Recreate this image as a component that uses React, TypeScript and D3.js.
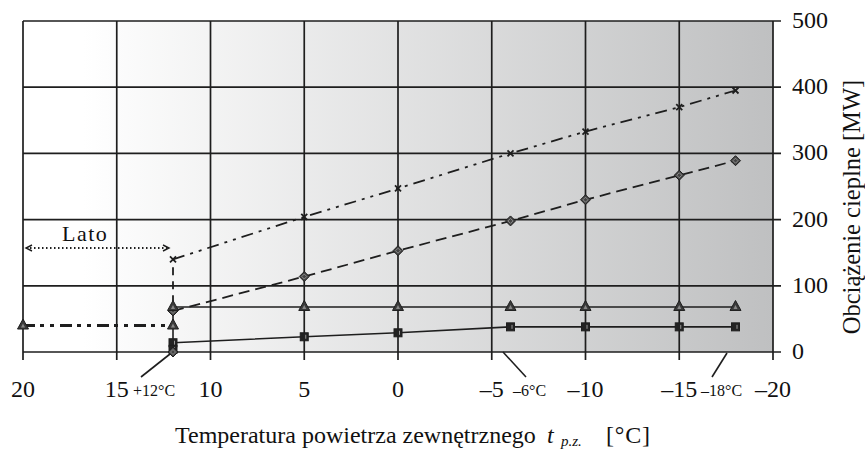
import React from "react";
import * as d3 from "d3";

const tempTicks = [20, 15, 10, 5, 0, -5, -10, -15, -20];
const loadTicks = [0, 100, 200, 300, 400, 500];
const winterTemps = [12, 5, 0, -6, -10, -15, -18];
const totalLoad = [140, 204, 247, 300, 333, 370, 395];
const heatingLoad = [62, 114, 153, 198, 230, 267, 289];
const baseLoad = [68, 68, 68, 68, 68, 68, 68];
const lowLoad = [14, 23, 29, 38, 38, 38, 38];
const summerTemps = [20, 12];
const summerLoad = [40, 40];

const W = 865;
const H = 450;
const FONT = "Liberation Serif, DejaVu Serif, serif";
const INK = "#1e1e1e";

const x = d3.scaleLinear().domain([20, -20]).range([23, 773]);
const y = d3.scaleLinear().domain([0, 500]).range([352, 21]);

const fmt = (v: number) => (v < 0 ? "\u2013" + Math.abs(v) : String(v));

const lineGen = d3
  .line<[number, number]>()
  .x((d) => x(d[0]))
  .y((d) => y(d[1]));

const pts = (ts: number[], vs: number[]) => ts.map((t, i) => [t, vs[i]] as [number, number]);

const ts = { fontFamily: FONT, fill: "#111" } as React.CSSProperties;

function Triangle({ cx, cy }: { cx: number; cy: number }) {
  const s = 5.5;
  return (
    <g>
      <path d={`M${cx},${cy - s - 1}L${cx + s},${cy + s - 2}L${cx - s},${cy + s - 2}Z`} fill="#3a3a3a" stroke={INK} strokeWidth={1} />
      <path d={`M${cx},${cy - 2}L${cx + 2},${cy + 2}L${cx - 2},${cy + 2}Z`} fill="#888" />
    </g>
  );
}
function Square({ cx, cy }: { cx: number; cy: number }) {
  const s = 4;
  return (
    <g>
      <rect x={cx - s} y={cy - s} width={2 * s} height={2 * s} fill="#222" stroke={INK} strokeWidth={1} />
      <line x1={cx + 1.5} x2={cx + 1.5} y1={cy - 2} y2={cy + 2} stroke="#999" strokeWidth={1} />
    </g>
  );
}
function Diamond({ cx, cy }: { cx: number; cy: number }) {
  const s = 5;
  return (
    <g>
      <path d={`M${cx},${cy - s}L${cx + s},${cy}L${cx},${cy + s}L${cx - s},${cy}Z`} fill="#444" stroke={INK} strokeWidth={1} />
      <path d={`M${cx},${cy - 2.5}L${cx + 2.5},${cy}L${cx},${cy + 2.5}L${cx - 2.5},${cy}Z`} fill="none" stroke="#999" strokeWidth={0.8} />
    </g>
  );
}
function Cross({ cx, cy }: { cx: number; cy: number }) {
  const s = 3;
  return (
    <g stroke={INK} strokeWidth={1.8}>
      <line x1={cx - s} y1={cy - s} x2={cx + s} y2={cy + s} />
      <line x1={cx - s} y1={cy + s} x2={cx + s} y2={cy - s} />
    </g>
  );
}

export default function App() {
  const x0 = x(20);
  const x1 = x(-20);
  const yTop = y(500);
  const yBot = y(0);
  const latoL = x(20) + 3;
  const latoR = x(12) - 4;
  const latoY = 248;
  return (
    <svg width={W} height={H} style={{ position: "absolute", left: 0, top: 0, background: "#fff" }}>
      <defs>
        <linearGradient id="bg" x1="0" x2="1" y1="0" y2="0">
          <stop offset="0" stopColor="#ffffff" />
          <stop offset="0.08" stopColor="#ffffff" />
          <stop offset="1" stopColor="#bfc0c1" />
        </linearGradient>
      </defs>
      <rect x={x0} y={yTop} width={x1 - x0} height={yBot - yTop} fill="url(#bg)" />
      {/* grid */}
      {tempTicks.map((t) => (
        <line key={"v" + t} x1={x(t)} x2={x(t)} y1={yTop} y2={yBot + 8} stroke={INK} strokeWidth={1.7} />
      ))}
      {loadTicks.map((v) => (
        <line key={"h" + v} x1={x0} x2={x1 + 8} y1={y(v)} y2={y(v)} stroke={INK} strokeWidth={1.7} />
      ))}
      {/* tick labels */}
      {tempTicks.map((t) => (
        <text key={"tx" + t} x={x(t)} y={397} fontSize={24} textAnchor="middle" style={ts}>
          {fmt(t)}
        </text>
      ))}
      {loadTicks.map((v) => (
        <text key={"ty" + v} x={792} y={y(v) + 7} fontSize={24} textAnchor="start" style={ts}>
          {v}
        </text>
      ))}
      <text transform={`translate(860,207) rotate(-90)`} fontSize={24.5} textAnchor="middle" style={ts}>
        Obciążenie cieplne [MW]
      </text>
      <text x={175} y={443} fontSize={24} textAnchor="start" style={ts}>
        Temperatura powietrza zewnętrznego
      </text>
      <text x={547} y={443} fontSize={24} fontStyle="italic" style={ts}>t</text>
      <text x={561} y={446} fontSize={15} fontStyle="italic" style={ts}>p.z.</text>
      <text x={606} y={443} fontSize={24} letterSpacing={0.8} style={ts}>[°C]</text>
      {/* annotations */}
      <line x1={170} y1={354} x2={141} y2={377} stroke={INK} strokeWidth={1.6} />
      <text x={133} y={396} fontSize={16} style={ts}>+12°C</text>
      <line x1={503} y1={352} x2={526} y2={377} stroke={INK} strokeWidth={1.6} />
      <text x={513} y={396} fontSize={16} style={ts}>{"\u20136°C"}</text>
      <line x1={727} y1={353} x2={712} y2={377} stroke={INK} strokeWidth={1.6} />
      <text x={701} y={396} fontSize={16} style={ts}>{"\u201318°C"}</text>
      {/* Lato */}
      <line x1={latoL} x2={latoR} y1={latoY} y2={latoY} stroke={INK} strokeWidth={2} strokeDasharray="1.5,2.5" />
      <path d={`M${latoL + 6},${latoY - 3}L${latoL},${latoY}L${latoL + 6},${latoY + 3}`} fill="none" stroke={INK} strokeWidth={1.4} />
      <path d={`M${latoR - 6},${latoY - 3}L${latoR},${latoY}L${latoR - 6},${latoY + 3}`} fill="none" stroke={INK} strokeWidth={1.4} />
      <text x={62} y={241} fontSize={22} style={ts} letterSpacing={1.5}>Lato</text>
      {/* vertical connectors at +12 */}
      <line x1={x(12)} x2={x(12)} y1={y(totalLoad[0]) + 8} y2={y(baseLoad[0]) - 6} stroke={INK} strokeWidth={1.8} strokeDasharray="8,6" />
      <line x1={x(12)} x2={x(12)} y1={y(baseLoad[0])} y2={yBot} stroke={INK} strokeWidth={1.6} />
      {/* series lines */}
      <path d={lineGen(pts(winterTemps, totalLoad)) || ""} fill="none" stroke={INK} strokeWidth={1.8} strokeDasharray="12,6,3,6,3,6" />
      <path d={lineGen(pts(winterTemps, heatingLoad)) || ""} fill="none" stroke={INK} strokeWidth={1.8} strokeDasharray="11,6" />
      <path d={lineGen(pts(winterTemps, baseLoad)) || ""} fill="none" stroke={INK} strokeWidth={1.6} />
      <path d={lineGen(pts(winterTemps, lowLoad)) || ""} fill="none" stroke={INK} strokeWidth={1.6} />
      <path d={lineGen(pts(summerTemps, summerLoad)) || ""} fill="none" stroke={INK} strokeWidth={3} strokeDasharray="12,5,4,6,4,6" />
      {/* markers */}
      {summerTemps.map((t, i) => (
        <Triangle key={"st" + i} cx={x(t)} cy={y(summerLoad[i])} />
      ))}
      {winterTemps.map((t, i) => (
        <Square key={"sq" + i} cx={x(t)} cy={y(lowLoad[i])} />
      ))}
      <Square cx={x(12)} cy={y(4)} />
      <Diamond cx={x(12)} cy={y(0)} />
      {winterTemps.map((t, i) => (
        <Diamond key={"di" + i} cx={x(t)} cy={y(heatingLoad[i])} />
      ))}
      {winterTemps.map((t, i) => (
        <Triangle key={"tr" + i} cx={x(t)} cy={y(baseLoad[i])} />
      ))}
      {winterTemps.map((t, i) => (
        <Cross key={"cr" + i} cx={x(t)} cy={y(totalLoad[i])} />
      ))}
    </svg>
  );
}
